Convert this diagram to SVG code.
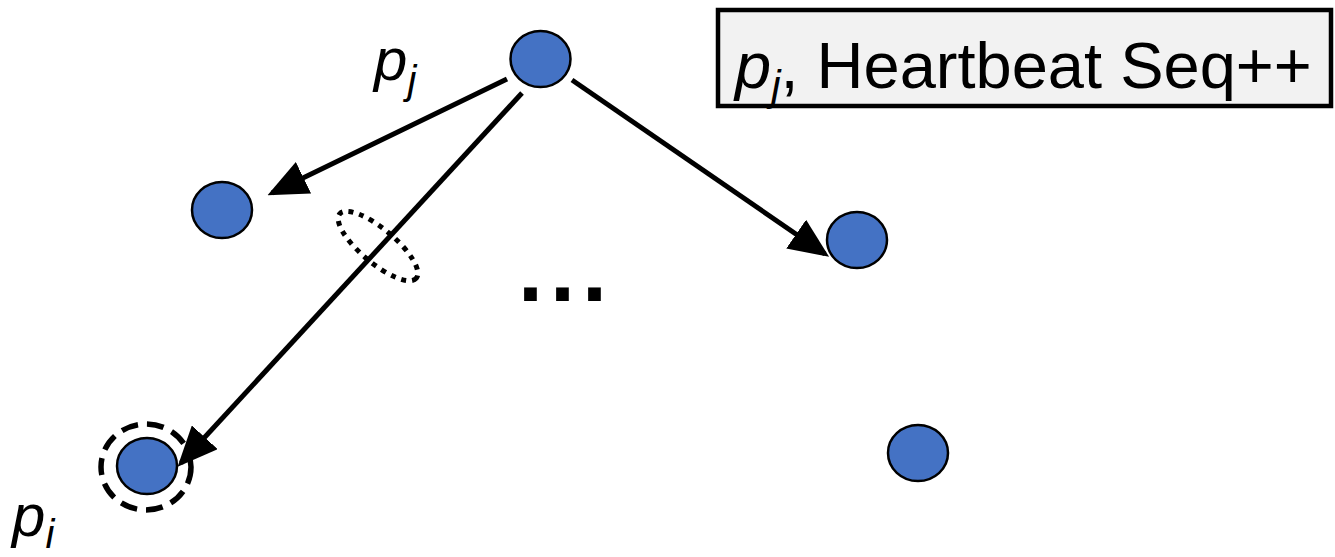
<svg xmlns="http://www.w3.org/2000/svg" width="1335" height="557" viewBox="0 0 1335 557">
<style>
.node{fill:#4472c4;stroke:#000;stroke-width:2.5}
.edge{stroke:#000;stroke-width:5;fill:none}
.t{font-family:"Liberation Sans",Arial,sans-serif;fill:#000}
</style>
<defs>
<marker id="ah" markerWidth="8" markerHeight="7" refX="7" refY="3.5" orient="auto" markerUnits="strokeWidth">
<path d="M0,0 L8,3.5 L0,7 Z" fill="#000"/>
</marker>
</defs>
<rect width="1335" height="557" fill="#fff"/>
<g id="connectors">
<line class="edge" x1="507" y1="79" x2="272" y2="193" marker-end="url(#ah)"/>
<line class="edge" x1="522" y1="93" x2="181" y2="463" marker-end="url(#ah)"/>
<line class="edge" x1="572" y1="80" x2="825" y2="254" marker-end="url(#ah)"/>
</g>
<g id="node-top"><ellipse class="node" cx="540.5" cy="59" rx="30" ry="28"/></g>
<g id="node-left"><ellipse class="node" cx="222" cy="210" rx="30" ry="28"/></g>
<g id="node-right"><ellipse class="node" cx="857" cy="240" rx="30" ry="28"/></g>
<g id="node-pi">
<ellipse cx="146" cy="467" rx="45" ry="43" fill="none" stroke="#000" stroke-width="5.5" stroke-dasharray="17 9"/>
<ellipse class="node" cx="147" cy="466" rx="30" ry="28"/>
</g>
<g id="node-bottomright"><ellipse class="node" cx="918" cy="453" rx="30" ry="28"/></g>
<g id="dotted-ellipse"><ellipse cx="378" cy="246" rx="50" ry="17" transform="rotate(40 378 246)" fill="none" stroke="#000" stroke-width="5" stroke-dasharray="5 6"/></g>
<g id="label-box">
<rect x="718" y="10" width="613" height="96" fill="#f2f2f2" stroke="#000" stroke-width="4.5"/>
<text class="t" x="735" y="88" font-size="65"><tspan font-style="italic">p</tspan><tspan font-style="italic" font-size="42" dy="12">j</tspan><tspan dy="-12">, Heartbeat Seq++</tspan></text>
</g>
<text class="t" x="374" y="80" font-size="60" font-style="italic">p<tspan font-size="40" dy="14">j</tspan></text>
<text class="t" x="12" y="536" font-size="60" font-style="italic">p<tspan font-size="40" dy="12">i</tspan></text>
<text class="t" x="518" y="301" font-size="90" font-weight="bold" letter-spacing="7">...</text>
</svg>
